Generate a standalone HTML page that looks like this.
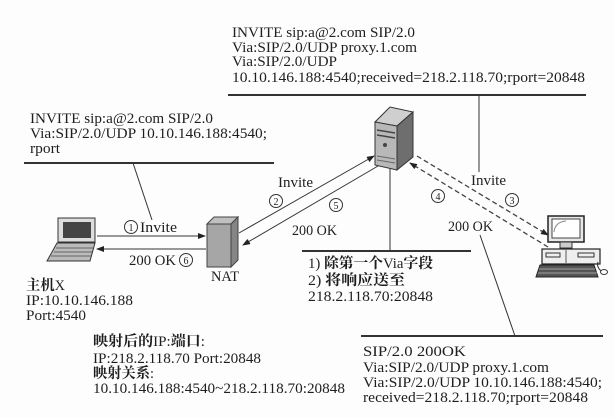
<!DOCTYPE html>
<html><head><meta charset="utf-8">
<style>
html,body{margin:0;padding:0;background:#fff;}
svg{display:block;}
text{font-family:"Liberation Serif","Noto Serif CJK SC",serif;font-size:14.5px;fill:#1e1e1e;}
.b{font-weight:bold;}
.num{font-size:10px;text-anchor:middle;}
</style></head>
<body>
<svg width="614" height="418" viewBox="0 0 614 418" xmlns="http://www.w3.org/2000/svg">
<defs>
<marker id="ah" markerWidth="8" markerHeight="6" refX="7" refY="3" orient="auto" markerUnits="userSpaceOnUse">
<path d="M0,0 L8,3 L0,6 z" fill="#222"/>
</marker>
</defs>
<rect width="614" height="418" fill="#fdfdfd"/>

<!-- top block -->
<text x="232" y="37" textLength="183" lengthAdjust="spacingAndGlyphs">INVITE sip:a@2.com SIP/2.0</text>
<text x="232" y="52" textLength="185" lengthAdjust="spacingAndGlyphs">Via:SIP/2.0/UDP proxy.1.com</text>
<text x="232" y="66" textLength="105" lengthAdjust="spacingAndGlyphs">Via:SIP/2.0/UDP</text>
<text x="232" y="82" textLength="353" lengthAdjust="spacingAndGlyphs">10.10.146.188:4540;received=218.2.118.70;rport=20848</text>
<line x1="228" y1="95" x2="586" y2="95" stroke="#333" stroke-width="2"/>
<line x1="479" y1="95" x2="479" y2="172" stroke="#333" stroke-width="1"/>

<!-- left block -->
<text x="30" y="123" textLength="183" lengthAdjust="spacingAndGlyphs">INVITE sip:a@2.com SIP/2.0</text>
<text x="30" y="138" textLength="237" lengthAdjust="spacingAndGlyphs">Via:SIP/2.0/UDP 10.10.146.188:4540;</text>
<text x="30" y="153" textLength="30" lengthAdjust="spacingAndGlyphs">rport</text>
<line x1="24" y1="163" x2="274" y2="163" stroke="#333" stroke-width="2"/>
<line x1="133" y1="163" x2="152" y2="220" stroke="#333" stroke-width="1"/>

<!-- laptop -->
<rect x="58" y="218" width="37" height="24" fill="#ddd" stroke="#333" stroke-width="1"/>
<rect x="63" y="222" width="28" height="16" fill="#444"/>
<polygon points="57,243 95,243 90,261 47,261" fill="#bbb" stroke="#333" stroke-width="1"/>
<line x1="56" y1="248" x2="93" y2="248" stroke="#666" stroke-width="1"/>
<line x1="54" y1="252" x2="92" y2="252" stroke="#666" stroke-width="1"/>
<line x1="51" y1="256" x2="91" y2="256" stroke="#666" stroke-width="1"/>

<!-- arrows laptop - NAT -->
<line x1="97" y1="236" x2="205" y2="236" stroke="#333" stroke-width="1" marker-end="url(#ah)"/>
<line x1="206" y1="249" x2="97" y2="249" stroke="#333" stroke-width="1" marker-end="url(#ah)"/>
<circle cx="131" cy="227" r="6.5" fill="none" stroke="#333" stroke-width="1"/>
<text class="num" x="131" y="231">1</text>
<text x="140" y="232" textLength="37" lengthAdjust="spacingAndGlyphs">Invite</text>
<text x="129" y="265" textLength="47" lengthAdjust="spacingAndGlyphs">200 OK</text>
<circle cx="186" cy="260" r="6.5" fill="none" stroke="#333" stroke-width="1"/>
<text class="num" x="186" y="264">6</text>

<!-- NAT -->
<polygon points="207,224 214,217 238,217 231,224" fill="#c0c0c0" stroke="#444" stroke-width="1"/>
<polygon points="207,224 231,224 231,267 207,267" fill="#a6a6a6" stroke="#444" stroke-width="1"/>
<polygon points="231,224 238,217 238,260 231,267" fill="#858585" stroke="#444" stroke-width="1"/>
<text x="211" y="281" textLength="28" lengthAdjust="spacingAndGlyphs">NAT</text>

<!-- host labels -->
<text x="26" y="290" textLength="39" lengthAdjust="spacingAndGlyphs"><tspan class="b">主机</tspan>X</text>
<text x="26" y="305" textLength="107" lengthAdjust="spacingAndGlyphs">IP:10.10.146.188</text>
<text x="26" y="320" textLength="60" lengthAdjust="spacingAndGlyphs">Port:4540</text>

<!-- NAT - server arrows -->
<line x1="239" y1="233" x2="374" y2="156" stroke="#333" stroke-width="1" marker-end="url(#ah)"/>
<line x1="378" y1="166" x2="243" y2="245" stroke="#333" stroke-width="1" marker-end="url(#ah)"/>
<text x="278" y="187" textLength="35" lengthAdjust="spacingAndGlyphs">Invite</text>
<circle cx="276" cy="201" r="6.5" fill="none" stroke="#333" stroke-width="1"/>
<text class="num" x="276" y="205">2</text>
<circle cx="336" cy="205" r="6.5" fill="none" stroke="#333" stroke-width="1"/>
<text class="num" x="336" y="209">5</text>
<text x="292" y="235" textLength="45" lengthAdjust="spacingAndGlyphs">200 OK</text>

<!-- server -->
<polygon points="375,122 390,107 413,112 397,126" fill="#cfcfcf" stroke="#333" stroke-width="1"/>
<polygon points="375,122 397,126 397,170 375,165" fill="#b8b8b8" stroke="#333" stroke-width="1"/>
<polygon points="397,126 413,112 413,157 397,170" fill="#6e6e6e" stroke="#333" stroke-width="1"/>
<line x1="377" y1="130" x2="395" y2="133" stroke="#444" stroke-width="1.5"/>
<line x1="377" y1="135" x2="395" y2="138" stroke="#444" stroke-width="1.5"/>
<circle cx="385" cy="145" r="2" fill="#444"/>
<line x1="377" y1="156" x2="395" y2="159" stroke="#666" stroke-width="1"/>
<line x1="377" y1="160" x2="395" y2="163" stroke="#666" stroke-width="1"/>

<!-- server note -->
<line x1="390" y1="168" x2="390" y2="251" stroke="#333" stroke-width="1"/>
<line x1="302" y1="251" x2="471" y2="251" stroke="#333" stroke-width="2"/>
<text x="308" y="268" textLength="125" lengthAdjust="spacingAndGlyphs">1) <tspan class="b">除第一个</tspan>Via<tspan class="b">字段</tspan></text>
<text x="308" y="285" textLength="97" lengthAdjust="spacingAndGlyphs">2) <tspan class="b">将响应送至</tspan></text>
<text x="308" y="301" textLength="125" lengthAdjust="spacingAndGlyphs">218.2.118.70:20848</text>

<!-- server - PC dashed -->
<line x1="417" y1="156" x2="548" y2="235" stroke="#444" stroke-width="1.3" stroke-dasharray="5,3" marker-end="url(#ah)"/>
<line x1="548" y1="247" x2="410" y2="163" stroke="#444" stroke-width="1.3" stroke-dasharray="5,3" marker-end="url(#ah)"/>
<text x="471" y="185" textLength="35" lengthAdjust="spacingAndGlyphs">Invite</text>
<circle cx="438" cy="196" r="6.5" fill="none" stroke="#333" stroke-width="1"/>
<text class="num" x="438" y="200">4</text>
<circle cx="512" cy="200" r="6.5" fill="none" stroke="#333" stroke-width="1"/>
<text class="num" x="512" y="204">3</text>
<text x="448" y="231" textLength="45" lengthAdjust="spacingAndGlyphs">200 OK</text>

<!-- PC -->
<rect x="548" y="216" width="36" height="26" fill="#e8e8e8" stroke="#222" stroke-width="1.5"/>
<rect x="552" y="219" width="28" height="19" fill="#fff" stroke="#444" stroke-width="1"/>
<path d="M554,232 Q555,222 566,221" fill="none" stroke="#888" stroke-width="1"/>
<rect x="560" y="242" width="12" height="6" fill="#ccc" stroke="#333" stroke-width="1"/>
<rect x="542" y="249" width="58" height="15" fill="#eee" stroke="#222" stroke-width="1.2"/>
<rect x="546" y="253" width="14" height="4" fill="none" stroke="#333" stroke-width="1"/>
<rect x="578" y="253" width="16" height="4" fill="none" stroke="#333" stroke-width="1"/>
<line x1="566" y1="250" x2="566" y2="263" stroke="#555" stroke-width="1"/>
<polygon points="540,265 594,265 598,277 536,277" fill="#555" stroke="#222" stroke-width="1"/>
<line x1="539" y1="269" x2="595" y2="269" stroke="#bbb" stroke-width="0.8"/>
<line x1="538" y1="273" x2="597" y2="273" stroke="#bbb" stroke-width="0.8"/>
<ellipse cx="604" cy="272" rx="3.5" ry="2.5" fill="#fff" stroke="#333" stroke-width="1"/>
<path d="M601,271 Q596,266 598,262" fill="none" stroke="#333" stroke-width="1"/>

<!-- bottom right block -->
<line x1="480" y1="235" x2="515" y2="336" stroke="#333" stroke-width="1"/>
<line x1="361" y1="336" x2="603" y2="336" stroke="#333" stroke-width="2"/>
<text x="363" y="356" textLength="103" lengthAdjust="spacingAndGlyphs">SIP/2.0 200OK</text>
<text x="363" y="372" textLength="186" lengthAdjust="spacingAndGlyphs">Via:SIP/2.0/UDP proxy.1.com</text>
<text x="363" y="387" textLength="239" lengthAdjust="spacingAndGlyphs">Via:SIP/2.0/UDP 10.10.146.188:4540;</text>
<text x="363" y="402" textLength="225" lengthAdjust="spacingAndGlyphs">received=218.2.118.70;rport=20848</text>

<!-- bottom middle block -->
<text x="93" y="346" textLength="112" lengthAdjust="spacingAndGlyphs"><tspan class="b">映射后的</tspan>IP:<tspan class="b">端口</tspan>:</text>
<text x="93" y="363" textLength="168" lengthAdjust="spacingAndGlyphs">IP:218.2.118.70 Port:20848</text>
<text x="93" y="378" textLength="61" lengthAdjust="spacingAndGlyphs"><tspan class="b">映射关系</tspan>:</text>
<text x="93" y="393" textLength="252" lengthAdjust="spacingAndGlyphs">10.10.146.188:4540~218.2.118.70:20848</text>
</svg>
</body></html>
